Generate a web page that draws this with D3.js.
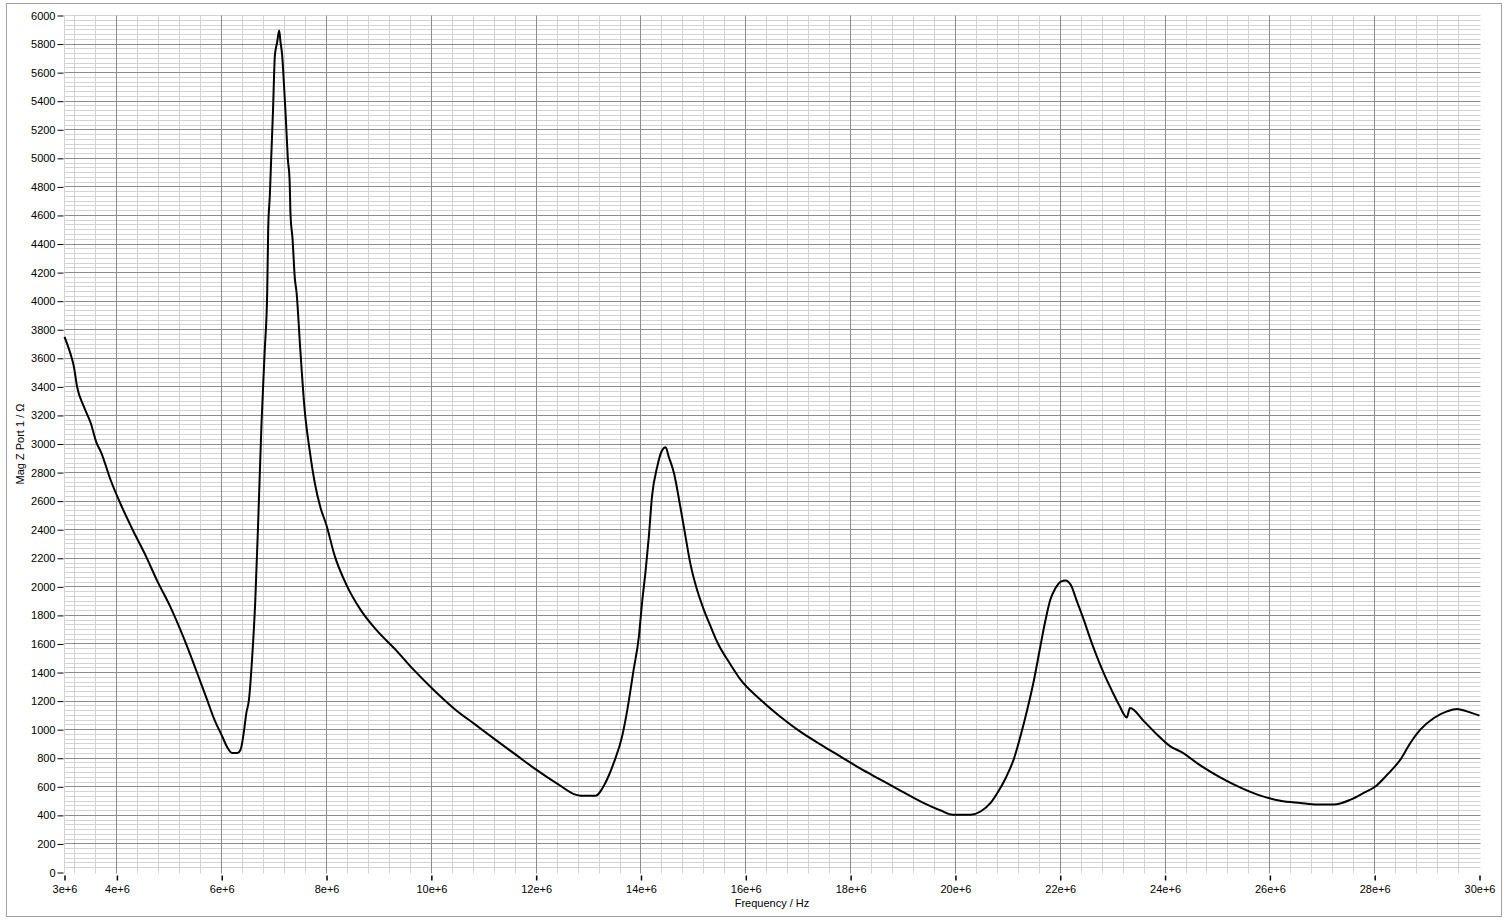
<!DOCTYPE html>
<html>
<head>
<meta charset="utf-8">
<script src="https://cdn.jsdelivr.net/npm/d3@7"></script>
<style>
  html, body { margin: 0; padding: 0; background: #ffffff; }
  svg { display: block; }
  text { font-family: "Liberation Sans", Arial, sans-serif; font-size: 11px; fill: #000; }
</style>
</head>
<body>
<svg id="chart" width="1508" height="924"></svg>
<script>
// Frequency in MHz (x 1e6 Hz)
const freqMHz = [
  3.00, 3.11, 3.18, 3.24, 3.37, 3.50, 3.61, 3.70, 3.88, 4.07, 4.30, 4.56, 4.76, 5.02, 5.29, 5.60,
  5.72, 5.86, 6.01, 6.10, 6.20, 6.30, 6.36, 6.42, 6.47, 6.52, 6.58, 6.64, 6.70, 6.76, 6.82, 6.868,
  6.887, 6.918, 6.944, 6.963, 6.982, 6.995, 7.014, 7.058, 7.096, 7.122, 7.154, 7.185, 7.217, 7.236,
  7.261, 7.294, 7.313, 7.351, 7.395, 7.427, 7.50, 7.58, 7.68, 7.78, 7.88, 8.00, 8.15, 8.38, 8.65,
  8.95, 9.32, 9.66, 10.04, 10.46, 10.84, 11.22, 11.61, 12.00, 12.43, 12.75, 12.85, 13.13, 13.32,
  13.48, 13.64, 13.74, 13.86, 13.96, 14.02, 14.09, 14.15, 14.21, 14.31, 14.39, 14.47, 14.53, 14.63,
  14.75, 14.85, 14.94, 15.07, 15.20, 15.33, 15.45, 15.71, 15.90, 16.28, 16.66, 17.04, 17.43, 17.81,
  18.19, 18.57, 18.95, 19.34, 19.72, 19.95, 20.29, 20.48, 20.67, 20.80, 20.96, 21.11, 21.24, 21.37,
  21.50, 21.62, 21.72, 21.81, 21.91, 22.01, 22.10, 22.20, 22.32, 22.45, 22.58, 22.70, 22.83, 22.99,
  23.12, 23.27, 23.33, 23.60, 23.85, 24.10, 24.30, 24.68, 25.06, 25.44, 25.82, 26.20, 26.58, 26.90,
  27.22, 27.54, 27.79, 28.02, 28.24, 28.49, 28.68, 28.87, 29.13, 29.38, 29.57, 29.76, 30.00
];
// |Z| Port 1 in Ohm
const magZ = [
  3750, 3636, 3540, 3401, 3261, 3147, 3010, 2940, 2748, 2580, 2400, 2210, 2049, 1860, 1629, 1329,
  1210, 1070, 953, 880, 837, 837, 860, 977, 1117, 1210, 1500, 1900, 2500, 3150, 3650, 4065,
  4508, 4741, 4998, 5184, 5371, 5534, 5720, 5813, 5895, 5813, 5720, 5534, 5324, 5184,
  4998, 4858, 4601, 4438, 4159, 4065, 3657, 3250, 2950, 2720, 2560, 2430, 2224, 2014, 1839,
  1699, 1559, 1420, 1280, 1140, 1035, 930, 825, 720, 615, 545, 538, 538, 627,
  767, 953, 1140, 1420, 1652, 1886, 2119, 2352, 2632, 2841, 2946, 2977, 2911, 2795,
  2562, 2352, 2166, 1979, 1839, 1722, 1617, 1455, 1350, 1210, 1091, 986, 895, 811,
  727, 650, 573, 496, 434, 405, 405, 427, 487, 557, 662, 790, 953, 1140,
  1350, 1582, 1769, 1909, 1991, 2037, 2044, 2014, 1897, 1769, 1629, 1512, 1396, 1270,
  1175, 1086, 1152, 1058, 965, 883, 846, 748, 664, 594, 538, 503, 487, 476,
  476, 510, 557, 604, 685, 790, 907, 1000, 1082, 1128, 1145, 1128, 1098
];
const xTickValues = [3, 4, 6, 8, 10, 12, 14, 16, 18, 20, 22, 24, 26, 28, 30];
const xTickLabels = ["3e+6", "4e+6", "6e+6", "8e+6", "10e+6", "12e+6", "14e+6", "16e+6", "18e+6", "20e+6", "22e+6", "24e+6", "26e+6", "28e+6", "30e+6"];
const yTickValues = d3.range(0, 6001, 200);
const xTitle = "Frequency / Hz";
const yTitle = "Mag Z Port 1 / \u03A9";

const svg = d3.select("#chart");
const L = 64.5, R = 1479.5, T = 15.5, B = 872.5;
const x = d3.scaleLinear().domain([3, 30]).range([L, R]);
const y = d3.scaleLinear().domain([0, 6000]).range([B, T]);
const snap = v => Math.round(v - 0.5) + 0.5;

// outer frame
svg.append("rect").attr("x", 6.5).attr("y", 3.5).attr("width", 1495).attr("height", 913)
  .attr("fill", "#fff").attr("stroke", "#a0a0a0").attr("stroke-width", 1);

const grid = svg.append("g");
// minor vertical grid every 0.4e6
const minorX = d3.range(8, 76).map(k => k * 0.4).filter(v => v >= 3 - 1e-9 && v <= 30 + 1e-9);
grid.selectAll("line.vminor").data(minorX.filter(v => Math.abs(v / 2 - Math.round(v / 2)) > 1e-6 || v < 4))
  .join("line").attr("class", "vminor")
  .attr("x1", d => snap(x(d))).attr("x2", d => snap(x(d)))
  .attr("y1", T).attr("y2", B + 1)
  .attr("stroke", "#d3d3d3").attr("stroke-width", 1);
// left edge line
grid.append("line").attr("x1", snap(x(3))).attr("x2", snap(x(3))).attr("y1", T).attr("y2", B + 1)
  .attr("stroke", "#d3d3d3");
// minor horizontal grid every 200/6
const minorY = d3.range(1, 181).map(k => k * 200 / 6).filter((v, i) => (i + 1) % 6 !== 0);
grid.selectAll("line.hminor").data(minorY.concat([6000]))
  .join("line").attr("class", "hminor")
  .attr("x1", L).attr("x2", R + 1)
  .attr("y1", d => snap(y(d))).attr("y2", d => snap(y(d)))
  .attr("stroke", "#d3d3d3").attr("stroke-width", 1);
// major horizontal
grid.selectAll("line.hmajor").data(yTickValues.filter(v => v > 0 && v < 6000))
  .join("line").attr("class", "hmajor")
  .attr("x1", L).attr("x2", R + 1)
  .attr("y1", d => snap(y(d))).attr("y2", d => snap(y(d)))
  .attr("stroke", "#8c8c8c").attr("stroke-width", 1);
// major vertical
grid.selectAll("line.vmajor").data(xTickValues.filter(v => v > 3 && v < 30))
  .join("line").attr("class", "vmajor")
  .attr("x1", d => snap(x(d))).attr("x2", d => snap(x(d)))
  .attr("y1", T).attr("y2", B + 1)
  .attr("stroke", "#8c8c8c").attr("stroke-width", 1);

// Y axis
const yAxis = d3.axisLeft(y).tickValues(yTickValues).tickSize(6).tickPadding(2).tickFormat(d3.format("d"));
const gy = svg.append("g").attr("transform", `translate(${L - 1},0)`).call(yAxis);
gy.select(".domain").remove();
gy.selectAll(".tick line").attr("stroke", "#000");
gy.selectAll(".tick text").style("font-family", "'Liberation Sans', Arial, sans-serif").style("font-size", "11px").attr("fill", "#000");

// X axis
const xAxis = d3.axisBottom(x).tickValues(xTickValues).tickSize(5).tickPadding(5)
  .tickFormat((d, i) => xTickLabels[i]);
const gx = svg.append("g").attr("transform", `translate(0,${B + 3})`).call(xAxis);
gx.select(".domain").remove();
gx.selectAll(".tick line").attr("stroke", "#000").attr("stroke-width", 1.5);
gx.selectAll(".tick text").style("font-family", "'Liberation Sans', Arial, sans-serif").style("font-size", "11px").attr("fill", "#000");

// titles
svg.append("text").attr("x", (L + R) / 2).attr("y", 907).attr("text-anchor", "middle").text(xTitle);
svg.append("text").attr("transform", `translate(24,${(T + B) / 2}) rotate(-90)`).attr("text-anchor", "middle").text(yTitle);

// curve
const data = freqMHz.map((f, i) => ({ f, v: magZ[i] }));
svg.append("path").datum(data)
  .attr("fill", "none").attr("stroke", "#000").attr("stroke-width", 2).attr("stroke-linejoin", "round")
  .attr("d", d3.line().x(d => x(d.f)).y(d => y(d.v)).curve(d3.curveMonotoneX));
</script>
</body>
</html>
